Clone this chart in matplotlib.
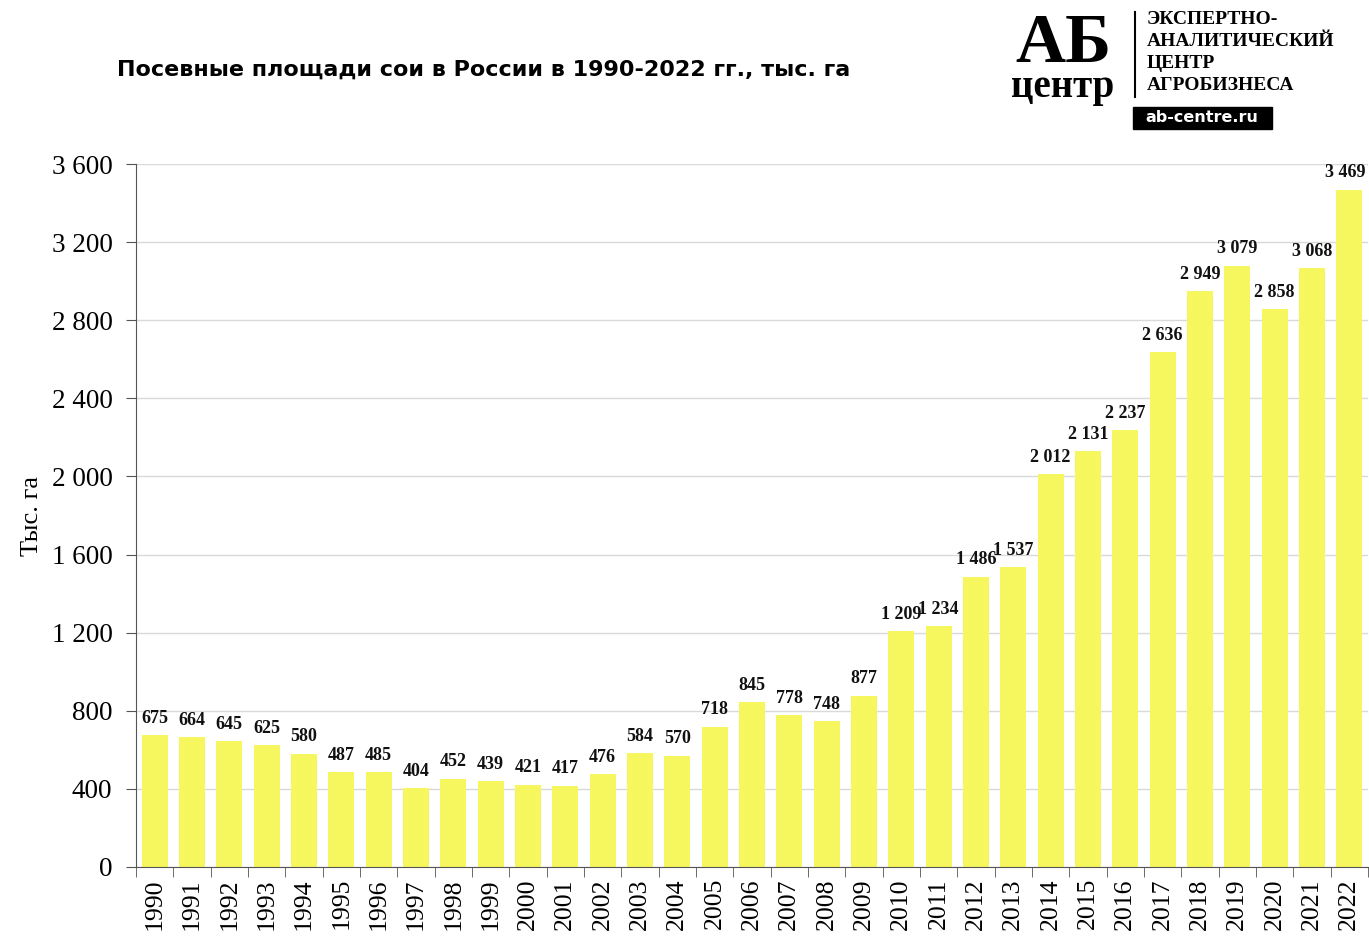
import matplotlib
matplotlib.use("Agg")
import matplotlib.pyplot as plt
from matplotlib.patches import Rectangle

years = [str(y) for y in range(1990, 2023)]
values = [675, 664, 645, 625, 580, 487, 485, 404, 452, 439, 421, 417, 476, 584, 570,
          718, 845, 778, 748, 877, 1209, 1234, 1486, 1537, 2012, 2131, 2237, 2636,
          2949, 3079, 2858, 3068, 3469]
yticks = [0, 400, 800, 1200, 1600, 2000, 2400, 2800, 3200, 3600]

def fmt(v):
    return f"{v:,}".replace(",", " ")

serif = "Liberation Serif"

fig = plt.figure(figsize=(13.69, 9.51), dpi=100)
ax = fig.add_axes([136/1369, 84/951, (1368-136)/1369, (867-164)/951])

x = list(range(len(years)))
ax.bar(x, values, width=0.7, color="#f6f65e", zorder=2)
ax.set_xlim(-0.5, len(years) - 0.5)
ax.set_ylim(0, 3600)
ax.set_yticks(yticks)
ax.set_yticklabels([fmt(t) for t in yticks], fontfamily=serif, fontsize=19.5)
ax.set_xticks(x)
ax.set_xticklabels(years, rotation=90, fontfamily=serif, fontsize=18.5)
ax.set_xticks([i - 0.5 for i in range(len(years) + 1)], minor=True)
ax.tick_params(axis="x", which="major", length=0, pad=8)
ax.tick_params(axis="x", which="minor", length=7, color="#555555")
ax.tick_params(axis="y", length=7, color="#555555", pad=10)
ax.yaxis.grid(True, color="#d9d9d9", linewidth=1, zorder=0)
for s in ["top", "right"]:
    ax.spines[s].set_visible(False)
for s in ["left", "bottom"]:
    ax.spines[s].set_color("#555555")

for xi, v in zip(x, values):
    dx = -3 if xi == len(values) - 1 else 0
    ax.annotate(fmt(v), (xi, v), xytext=(dx, 6), textcoords="offset points",
                ha="center", va="bottom", fontfamily=serif, fontweight="bold",
                fontsize=13, color="#111111")

ax.set_ylabel("Тыс. га", fontfamily=serif, fontsize=19, labelpad=6)

fig.text(117/1369, 1 - 70/951, "Посевные площади сои в России в 1990-2022 гг., тыс. га",
         fontfamily="DejaVu Sans", fontweight="bold", fontsize=16, va="center", ha="left")

# Logo
fig.text(1063/1369, 1 - 45/951, "АБ", fontfamily=serif, fontweight="bold", fontsize=50,
         ha="center", va="center")
fig.text(1063/1369, 1 - 88/951, "центр", fontfamily=serif, fontweight="bold", fontsize=28,
         ha="center", va="center")
fig.add_artist(plt.Line2D([1135/1369, 1135/1369], [1 - 12/951, 1 - 97/951],
                          transform=fig.transFigure, color="black", linewidth=1.5))
for i, line in enumerate(["ЭКСПЕРТНО-", "АНАЛИТИЧЕСКИЙ", "ЦЕНТР", "АГРОБИЗНЕСА"]):
    fig.text(1147/1369, 1 - (20 + i * 22)/951, line, fontfamily=serif, fontweight="bold",
             fontsize=14, ha="left", va="center")
fig.add_artist(Rectangle((1133/1369, 1 - 129/951), (1272-1133)/1369, 22/951,
                         transform=fig.transFigure, color="black"))
fig.text(1202/1369, 1 - 118/951, "ab-centre.ru", fontfamily="DejaVu Sans", fontweight="bold",
         fontsize=11.5, color="white", ha="center", va="center")

fig.savefig("out.png", dpi=100)
